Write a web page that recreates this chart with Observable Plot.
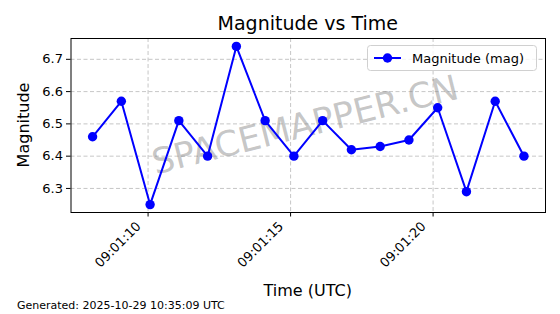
<!DOCTYPE html>
<html><head><meta charset="utf-8">
<script src="https://cdn.jsdelivr.net/npm/d3@7"></script>
<script src="https://cdn.jsdelivr.net/npm/@observablehq/plot@0.6"></script>
<style>body{margin:0;background:#fff;} svg{display:block;}</style>
</head><body><div id="chart"></div>
<script>
const day = "2025-10-29";
const times = ["09:01:08.053","09:01:09.062","09:01:10.071","09:01:11.080","09:01:12.089","09:01:13.098","09:01:14.107","09:01:15.116","09:01:16.125","09:01:17.134","09:01:18.143","09:01:19.152","09:01:20.161","09:01:21.170","09:01:22.179","09:01:23.188"];
const magnitudes = [6.46,6.57,6.25,6.51,6.40,6.74,6.51,6.40,6.51,6.42,6.43,6.45,6.55,6.29,6.57,6.40];
const yTicks = [6.3,6.4,6.5,6.6,6.7];
const xTickLabels = ["09:01:10","09:01:15","09:01:20"];
const titleText = "Magnitude vs Time";
const xLabel = "Time (UTC)";
const yLabel = "Magnitude";
const legendLabel = "Magnitude (mag)";
const watermark = "SPACEMAPPER.CN";
const caption = "Generated: 2025-10-29 10:35:09 UTC";

const parse = s => new Date(`${day}T${s}Z`);
const data = times.map((t, i) => ({t: parse(t), m: magnitudes[i]}));
const xTicks = xTickLabels.map(parse);

const [tx0, tx1] = d3.extent(data, d => +d.t);
const padX = (tx1 - tx0) * 0.05;
const [my0, my1] = d3.extent(magnitudes);
const padY = (my1 - my0) * 0.05;

const W = 560, H = 314;
const mL = 70.5, mR = 15, mT = 38, mB = 102;
const font = "DejaVu Sans, sans-serif";

const chart = Plot.plot({
  width: W, height: H,
  marginLeft: mL, marginRight: mR, marginTop: mT, marginBottom: mB,
  style: {fontFamily: font, fontSize: "13px", background: "white", color: "black"},
  x: {type: "utc", domain: [new Date(tx0 - padX), new Date(tx1 + padX)]},
  y: {domain: [my0 - padY, my1 + padY]},
  marks: [
    Plot.gridX(xTicks, {stroke: "#b0b0b0", strokeOpacity: 0.9, strokeDasharray: "4,2.5", strokeWidth: 0.8}),
    Plot.gridY(yTicks, {stroke: "#b0b0b0", strokeOpacity: 0.9, strokeDasharray: "4,2.5", strokeWidth: 0.8}),
    Plot.text([watermark], {frameAnchor: "middle", dx: -3, rotate: -14, fontSize: 35, fill: "#808080", fillOpacity: 0.45, fontFamily: font}),
    Plot.line(data, {x: "t", y: "m", stroke: "#0000ff", strokeWidth: 2}),
    Plot.dot(data, {x: "t", y: "m", r: 4.7, fill: "#0000ff", stroke: "none"}),
    Plot.frame({stroke: "black", strokeWidth: 1}),
    Plot.axisX(xTicks, {tickSize: 4.5, tickFormat: () => "", label: null}),
    Plot.text(xTicks, {x: d => d, frameAnchor: "bottom", text: d3.utcFormat("%H:%M:%S"), rotate: -45, textAnchor: "end", lineAnchor: "top", dx: -13, dy: 8, fontSize: 13, fill: "black"}),
    Plot.axisY(yTicks, {tickFormat: d3.format(".1f"), tickSize: 4.5, tickPadding: 3.5, label: null, fontSize: 13})
  ]
});

const svg = d3.select(chart);
const cx = (mL + (W - mR)) / 2;
svg.append("text").attr("x", cx).attr("y", 30).attr("text-anchor", "middle")
  .attr("font-family", font).attr("font-size", 19).attr("fill", "black").text(titleText);
svg.append("text").attr("x", cx).attr("y", 296).attr("text-anchor", "middle")
  .attr("font-family", font).attr("font-size", 16).attr("fill", "black").text(xLabel);
svg.append("text").attr("transform", `translate(29,${(mT + H - mB) / 2}) rotate(-90)`).attr("text-anchor", "middle")
  .attr("font-family", font).attr("font-size", 16).attr("fill", "black").text(yLabel);
svg.append("text").attr("x", 17).attr("y", 309).attr("text-anchor", "start")
  .attr("font-family", font).attr("font-size", 11).attr("fill", "black").text(caption);

const lg = svg.append("g");
lg.append("rect").attr("x", 367.5).attr("y", 45.5).attr("width", 169).attr("height", 25).attr("rx", 3)
  .attr("fill", "white").attr("fill-opacity", 0.8).attr("stroke", "#d0d0d0");
lg.append("line").attr("x1", 374).attr("x2", 401).attr("y1", 58).attr("y2", 58)
  .attr("stroke", "#0000ff").attr("stroke-width", 2);
lg.append("circle").attr("cx", 387.5).attr("cy", 58).attr("r", 4.7).attr("fill", "#0000ff");
lg.append("text").attr("x", 412).attr("y", 58).attr("dy", "0.35em").attr("text-anchor", "start")
  .attr("font-family", font).attr("font-size", 13).attr("fill", "black").text(legendLabel);

document.getElementById("chart").appendChild(chart);
</script>
</body></html>
